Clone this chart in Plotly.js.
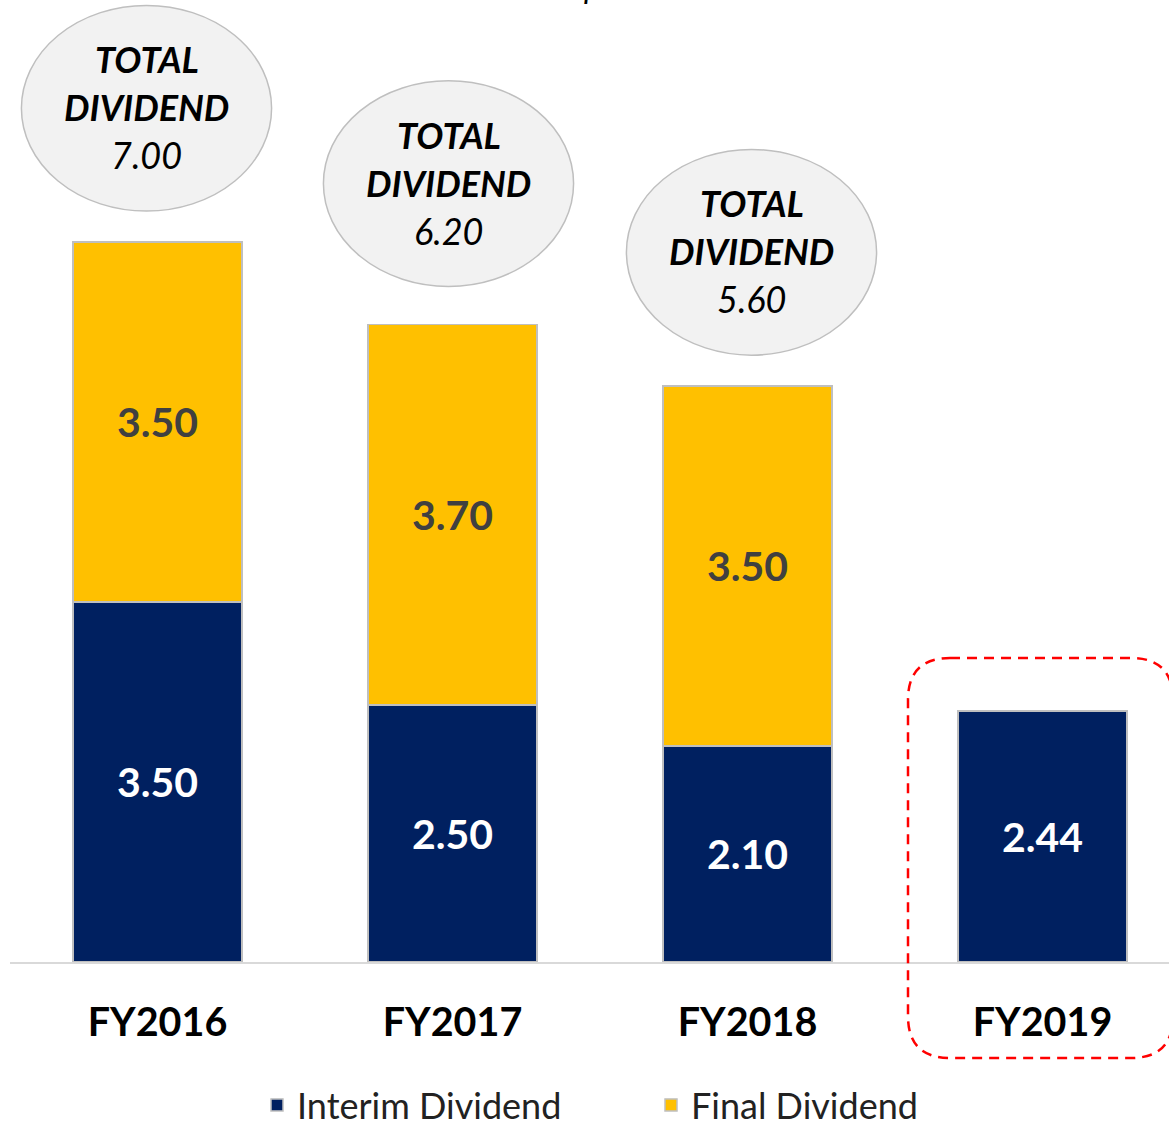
<!DOCTYPE html>
<html>
<head>
<meta charset="utf-8">
<script src="https://cdn.plot.ly/plotly-3.0.1.min.js"></script>
<style>html,body{margin:0;padding:0;background:#fff;overflow:hidden}#chart{width:1169px;height:1127px}</style>
</head>
<body>
<div id="chart"></div>
<script>
const categories = ['FY2016', 'FY2017', 'FY2018', 'FY2019'];
const interimDividend = [3.50, 2.50, 2.10, 2.44];
const finalDividend = [3.50, 3.70, 3.50, null];
const totalDividend = [7.00, 6.20, 5.60, null];
const seriesNames = ['Interim Dividend', 'Final Dividend'];
const bubbleLines = ['TOTAL', 'DIVIDEND'];
const topText = 'Sen per share';

const NAVY = '#002060', GOLD = '#FFC000', FONT = 'Lato, "Open Sans", sans-serif';
const W = 1169, H = 1127, ML = 10, MB = 165;
const plotW = W - ML, plotH = H - MB;
const catW = 295;
const xMax = -0.5 + plotW / catW;
const pxPerUnit = 102.86;
const yMax = plotH / pxPerUnit;
const bubbleShiftX = [-11, -4, 4];
const bubbleShiftY = [0, 7, 0];

const traces = [
  {type: 'bar', name: seriesNames[0], x: categories, y: interimDividend,
   marker: {color: NAVY, line: {color: '#bfbfbf', width: 1.5}},
   texttemplate: '%{y:.2f}', textposition: 'inside', insidetextanchor: 'middle',
   textfont: {family: FONT, size: 41, color: '#ffffff', weight: 'bold'},
   hoverinfo: 'skip'},
  {type: 'bar', name: seriesNames[1], x: categories, y: finalDividend,
   marker: {color: GOLD, line: {color: '#bfbfbf', width: 1.5}},
   texttemplate: '%{y:.2f}', textposition: 'inside', insidetextanchor: 'middle',
   textfont: {family: FONT, size: 41, color: '#404040', weight: 'bold'},
   hoverinfo: 'skip'}
];

const shapes = [];
const annotations = [];
totalDividend.forEach((t, i) => {
  if (t == null) return;
  const cy = t + 1.3 + bubbleShiftY[i] / pxPerUnit;
  const cx = i + bubbleShiftX[i] / catW;
  shapes.push({type: 'circle', xref: 'x', yref: 'y', x0: cx - 0.424, x1: cx + 0.424,
    y0: cy - 1.0, y1: cy + 1.0, fillcolor: '#f2f2f2', line: {color: '#bfbfbf', width: 1.5}, layer: 'above'});
  const lines = [
    {text: '<b><i>' + bubbleLines[0] + '</i></b>', shift: 49},
    {text: '<b><i>' + bubbleLines[1] + '</i></b>', shift: 1},
    {text: '<i>' + t.toFixed(2) + '</i>', shift: -47}
  ];
  lines.forEach(l => annotations.push({xref: 'x', yref: 'y', x: cx, y: cy, yshift: l.shift,
    text: l.text, showarrow: false, font: {family: FONT, size: 36, color: '#000'}}));
});

// red dashed rounded highlight box (pixel geometry converted to paper)
const px = v => (v - ML) / plotW;
const py = v => (plotH - v) / plotH;
const L = 908, R = 1173, T = 658, B = 1058, r = 42;
const path = `M ${px(L + r)},${py(T)} L ${px(R - r)},${py(T)} Q ${px(R)},${py(T)} ${px(R)},${py(T + r)} ` +
  `L ${px(R)},${py(B - r)} Q ${px(R)},${py(B)} ${px(R - r)},${py(B)} L ${px(L + r)},${py(B)} ` +
  `Q ${px(L)},${py(B)} ${px(L)},${py(B - r)} L ${px(L)},${py(T + r)} Q ${px(L)},${py(T)} ${px(L + r)},${py(T)} Z`;
shapes.push({type: 'path', xref: 'paper', yref: 'paper', path: path,
  line: {color: '#ff0000', width: 2.5, dash: '10px,7px'}, fillcolor: 'rgba(0,0,0,0)'});

annotations.push({xref: 'paper', yref: 'paper', x: px(617), y: py(7), yanchor: 'bottom',
  text: '<i>' + topText + '</i>', showarrow: false, font: {family: FONT, size: 32, color: '#000'}});

const layout = {
  width: W, height: H,
  margin: {l: ML, r: 0, t: 0, b: MB, pad: 0, autoexpand: false},
  paper_bgcolor: '#fff', plot_bgcolor: '#fff',
  barmode: 'stack', bargap: 1 - 169 / 295,
  xaxis: {type: 'category', range: [-0.5, xMax], showline: true, linecolor: '#d9d9d9', linewidth: 2,
    ticks: '', showgrid: false, zeroline: false, ticklabelstandoff: 25, automargin: false,
    tickfont: {family: FONT, size: 39.5, color: '#000', weight: 'bold'}, fixedrange: true},
  yaxis: {range: [0, yMax], visible: false, fixedrange: true, automargin: false},
  showlegend: true,
  legend: {orientation: 'h', x: px(257), xanchor: 'left', y: py(1105), yanchor: 'middle',
    entrywidth: 349, entrywidthmode: 'pixels',
    font: {family: FONT, size: 36, color: '#222'}, traceorder: 'normal', itemclick: false, itemdoubleclick: false},
  shapes: shapes, annotations: annotations
};

Plotly.newPlot('chart', traces, layout, {displayModeBar: false, staticPlot: true});
</script>
</body>
</html>
